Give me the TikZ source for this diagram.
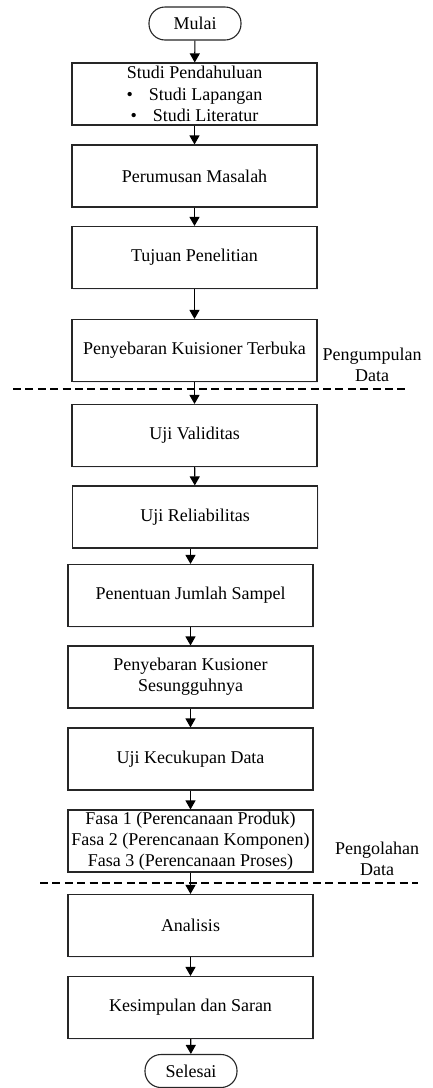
\documentclass[tikz,border=0pt]{standalone}
\usepackage{fontspec}
\setmainfont{Liberation Serif}
\usetikzlibrary{arrows.meta,shadows}

\begin{document}
\begin{tikzpicture}[x=0.5pt,y=-0.5pt,
    font=\fontsize{9}{10.6}\selectfont,
    kotak/.style={draw=black!85, line width=0.55pt, fill=white, inner sep=0pt, align=center,
        minimum width=122.5pt, minimum height=31pt,
        drop shadow={shadow xshift=0.6pt, shadow yshift=-0.6pt, fill=blue!20!gray!20, opacity=0.5}},
    terminal/.style={draw=black!85, line width=0.55pt, fill=white, inner sep=0pt,
        rounded corners=8pt, minimum width=46pt, minimum height=16.5pt},
    panah/.style={-{Triangle[length=4.5pt,width=5pt]}, line width=0.55pt},
    batas/.style={line width=0.55pt, dash pattern=on 4pt off 2.2pt},
    ket/.style={align=center, inner sep=0pt}]
    \useasboundingbox (0,0) rectangle (433,1088);

    \node[terminal] (mulai) at (195,23.5) {Mulai};
    \node[kotak] (studi) at (194.5,94) {Studi Pendahuluan\\
        \textbullet\hspace{8pt}Studi Lapangan\\
        \textbullet\hspace{8pt}Studi Literatur};
    \node[kotak] (rumusan) at (194.5,176) {Perumusan Masalah};
    \node[kotak] (tujuan) at (194.5,257.5) {Tujuan Penelitian};
    \node[kotak] (terbuka) at (194.5,350.5) {Penyebaran Kuisioner Terbuka};
    \node[kotak] (validitas) at (194.5,435.5) {Uji Validitas};
    \node[kotak] (reliabilitas) at (195,517) {Uji Reliabilitas};
    \node[kotak] (sampel) at (190.5,595.5) {Penentuan Jumlah Sampel};
    \node[kotak] (sungguh) at (190.5,677) {Penyebaran Kusioner\\Sesungguhnya};
    \node[kotak] (cukup) at (190.5,759) {Uji Kecukupan Data};
    \node[kotak] (fasa) at (190.5,841) {Fasa 1 (Perencanaan Produk)\\
        Fasa 2 (Perencanaan Komponen)\\Fasa 3 (Perencanaan Proses)};
    \node[kotak] (analisis) at (190.5,925.5) {Analisis};
    \node[kotak] (simpulan) at (190.5,1007.5) {Kesimpulan dan Saran};
    \node[terminal] (selesai) at (191,1071) {Selesai};

    \node[ket] (kumpul) at (372,364.5) {Pengumpulan\\Data};
    \node[ket] (olah) at (377,858.5) {Pengolahan\\Data};

    \coordinate (b1a) at (13,389);
    \coordinate (b1b) at (408,389);
    \coordinate (b2a) at (40,883);
    \coordinate (b2b) at (418,883);
    \draw[batas] (b1a) -- (b1b);
    \draw[batas] (b2a) -- (b2b);

    \draw[panah] (mulai) -- (studi);
    \draw[panah] (studi) -- (rumusan);
    \draw[panah] (rumusan) -- (tujuan);
    \draw[panah] (tujuan) -- (terbuka);
    \draw[panah] (terbuka) -- (validitas);
    \draw[panah] (validitas) -- (reliabilitas);
    \draw[panah] (reliabilitas.south -| sampel.north) -- (sampel.north);
    \draw[panah] (sampel) -- (sungguh);
    \draw[panah] (sungguh) -- (cukup);
    \draw[panah] (cukup) -- (fasa);
    \draw[panah] (fasa) -- (analisis);
    \draw[panah] (analisis) -- (simpulan);
    \draw[panah] (simpulan) -- (selesai);
\end{tikzpicture}
\end{document}
